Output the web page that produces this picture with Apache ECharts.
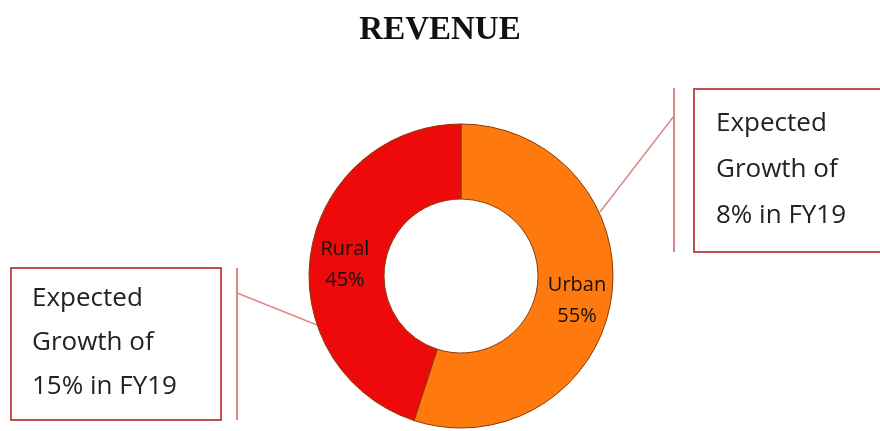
<!DOCTYPE html>
<html>
<head>
<meta charset="utf-8">
<script src="https://cdn.jsdelivr.net/npm/echarts@6/dist/echarts.min.js"></script>
<style>
  html, body { margin: 0; padding: 0; background: #fff; }
  #revenueChart { width: 880px; height: 431px; }
</style>
</head>
<body>
<div id="revenueChart"></div>
<script>
  // revenue split
  var segments = ['Urban', 'Rural'];
  var shares = [55, 45];
  var segmentColors = ['#FF7A0E', '#EE0A0A'];
  var calloutTexts = ['Expected\nGrowth of\n8% in FY19', 'Expected\nGrowth of\n15% in FY19'];

  var boxColor = '#C0504D';
  var leaderColor = '#D9898A';
  var boxFont = '26px "Open Sans", "DejaVu Sans", sans-serif';

  var chart = echarts.init(document.getElementById('revenueChart'));

  var option = {
    backgroundColor: '#fff',
    animation: false,
    title: {
      text: 'REVENUE',
      left: 'center',
      top: 9,
      textStyle: {
        fontFamily: '"Liberation Serif", serif',
        fontWeight: 'bold',
        fontSize: 33,
        color: '#111'
      }
    },
    series: [{
      type: 'pie',
      center: [461, 276],
      radius: [77, 152],
      startAngle: 90,
      clockwise: true,
      silent: true,
      data: segments.map(function (name, i) {
        return {
          name: name,
          value: shares[i],
          itemStyle: { color: segmentColors[i] }
        };
      }),
      itemStyle: {
        borderColor: '#8A3A08',
        borderWidth: 1
      },
      label: {
        show: true,
        position: 'inside',
        formatter: '{b}\n{c}%',
        color: '#111',
        fontSize: 20,
        lineHeight: 31,
        fontFamily: '"Open Sans", "DejaVu Sans", sans-serif'
      },
      labelLayout: function (params) {
        if (params.dataIndex === 1) return { dy: 7 };
        return { dy: 6 };
      },
      labelLine: { show: false }
    }],
    graphic: [
      // right callout (Urban)
      { type: 'line', shape: { x1: 600, y1: 212, x2: 674, y2: 116 }, style: { stroke: leaderColor, lineWidth: 1.5 } },
      { type: 'line', shape: { x1: 674, y1: 88, x2: 674, y2: 252 }, style: { stroke: leaderColor, lineWidth: 2 } },
      { type: 'rect', shape: { x: 694, y: 89, width: 190, height: 163 }, style: { fill: '#fff', stroke: boxColor, lineWidth: 2 } },
      { type: 'text', x: 716, y: 101, style: { text: calloutTexts[0], font: boxFont, lineHeight: 46, fill: '#222' } },
      // left callout (Rural)
      { type: 'line', shape: { x1: 237, y1: 293, x2: 317, y2: 325 }, style: { stroke: leaderColor, lineWidth: 1.5 } },
      { type: 'line', shape: { x1: 237, y1: 268, x2: 237, y2: 420 }, style: { stroke: leaderColor, lineWidth: 2 } },
      { type: 'rect', shape: { x: 11, y: 268, width: 210, height: 152 }, style: { fill: '#fff', stroke: boxColor, lineWidth: 2 } },
      { type: 'text', x: 32, y: 277, style: { text: calloutTexts[1], font: boxFont, lineHeight: 44, fill: '#222' } }
    ]
  };

  chart.setOption(option);
</script>
</body>
</html>
